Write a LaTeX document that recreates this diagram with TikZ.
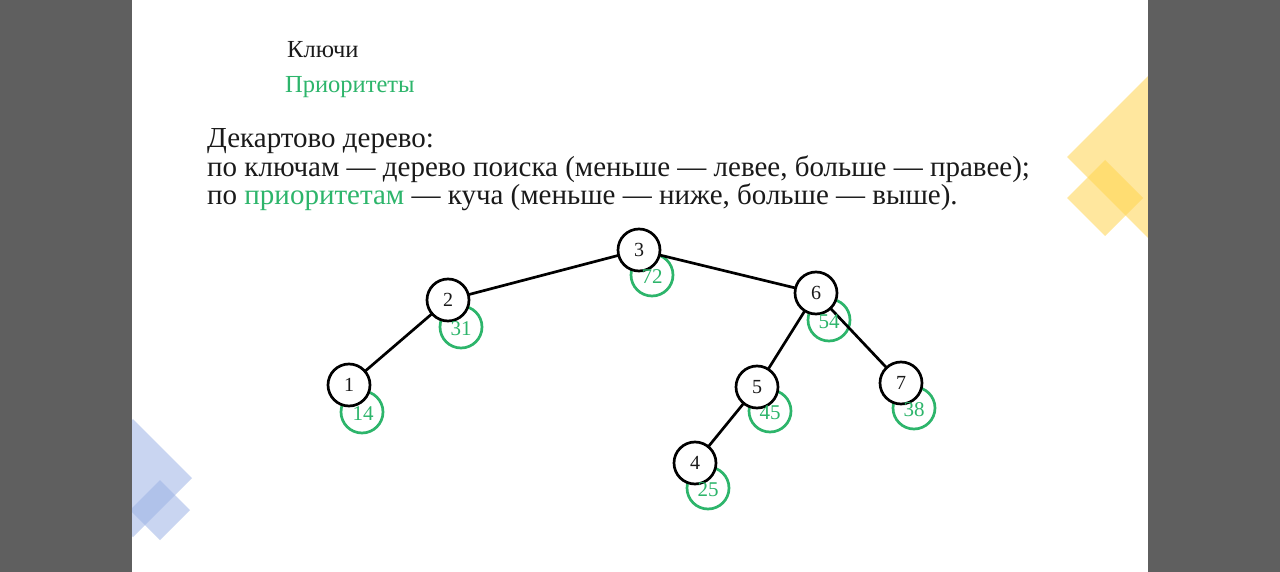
\documentclass[tikz,border=0pt]{standalone}
\usepackage{fontspec}
\setmainfont{Liberation Serif}
\definecolor{side}{HTML}{5F5F5F}
\definecolor{grn}{HTML}{2DB56B}
\definecolor{yel}{HTML}{FFD54F}
\definecolor{blu}{HTML}{9DB3E6}
\definecolor{ink}{HTML}{1A1A1A}
\tikzset{
  key/.style={circle, draw=black, line width=2.7pt, fill=white, minimum size=42pt, inner sep=0pt, text=ink, font=\fontsize{20}{20}\selectfont},
  pri/.style={circle, draw=grn, line width=2.7pt, minimum size=42pt, inner sep=0pt},
  prilab/.style={text=grn, font=\fontsize{21}{21}\selectfont, inner sep=0pt},
  edge/.style={line width=2.7pt, draw=black},
  deco/.style={opacity=0.55}
}
\begin{document}
\begin{tikzpicture}[x=1pt,y=-1pt]
\useasboundingbox (0,0) rectangle (1280,572);
\fill[white] (0,0) rectangle (1280,572);
% decorations
\begin{scope}
\clip (132,0) rectangle (1148,572);
\fill[yel,deco] (1067,157) -- (1148,76) -- (1229,157) -- (1148,238) -- cycle;
\fill[yel,deco] (1067,198) -- (1105,160) -- (1143,198) -- (1105,236) -- cycle;
\fill[blu,deco] (74,478) -- (133,419) -- (192,478) -- (133,537) -- cycle;
\fill[blu,deco] (130,510) -- (160,480) -- (190,510) -- (160,540) -- cycle;
\end{scope}
\fill[side] (0,0) rectangle (132,572);
\fill[side] (1148,0) rectangle (1280,572);
% texts
\node[anchor=base west, inner sep=0pt, text=ink, font=\fontsize{24.5}{24.5}\selectfont] (t1) at (287,58) {Ключи};
\node[anchor=base west, inner sep=0pt, font=\fontsize{24.5}{24.5}\selectfont, text=grn] (t2) at (285,93) {Приоритеты};
\node[anchor=base west, inner sep=0pt, text=ink, font=\fontsize{29}{29}\selectfont] (l1) at (207,148) {Декартово дерево:};
\node[anchor=base west, inner sep=0pt, text=ink, font=\fontsize{29}{29}\selectfont] (l2) at (207,177) {по ключам — дерево поиска (меньше — левее, больше — правее);};
\node[anchor=base west, inner sep=0pt, text=ink, font=\fontsize{29}{29}\selectfont] (l3) at (207,205) {по \textcolor{grn}{приоритетам} — куча (меньше — ниже, больше — выше).};
% priority circles
\foreach \n/\x/\y/\p in {g3/652/275/72, g2/461/327/31, g6/829/320/54, g1/362/412/14, g5/770/411/45, g7/914/408/38, g4/708/488/25}{
  \node[pri] (\n) at (\x,\y) {};
}
% edges
\coordinate (c3) at (639,250);
\coordinate (c2) at (448,300);
\coordinate (c6) at (816,293);
\coordinate (c1) at (349,385);
\coordinate (c5) at (757,387);
\coordinate (c7) at (901,383);
\coordinate (c4) at (695,463);
\draw[edge] (c3) -- (c2);
\draw[edge] (c3) -- (c6);
\draw[edge] (c2) -- (c1);
\draw[edge] (c6) -- (c5);
\draw[edge] (c6) -- (c7);
\draw[edge] (c5) -- (c4);
% key nodes
\node[key] (k3) at (c3) {3};
\node[key] (k2) at (c2) {2};
\node[key] (k6) at (c6) {6};
\node[key] (k1) at (c1) {1};
\node[key] (k5) at (c5) {5};
\node[key] (k7) at (c7) {7};
\node[key] (k4) at (c4) {4};
% priority labels
\node[prilab] (p3) at (652,277) {72};
\node[prilab] (p2) at (461,329) {31};
\node[prilab] (p6) at (829,322) {54};
\node[prilab] (p1) at (363,414) {14};
\node[prilab] (p5) at (770,413) {45};
\node[prilab] (p7) at (914,410) {38};
\node[prilab] (p4) at (708,490) {25};
\end{tikzpicture}
\end{document}
